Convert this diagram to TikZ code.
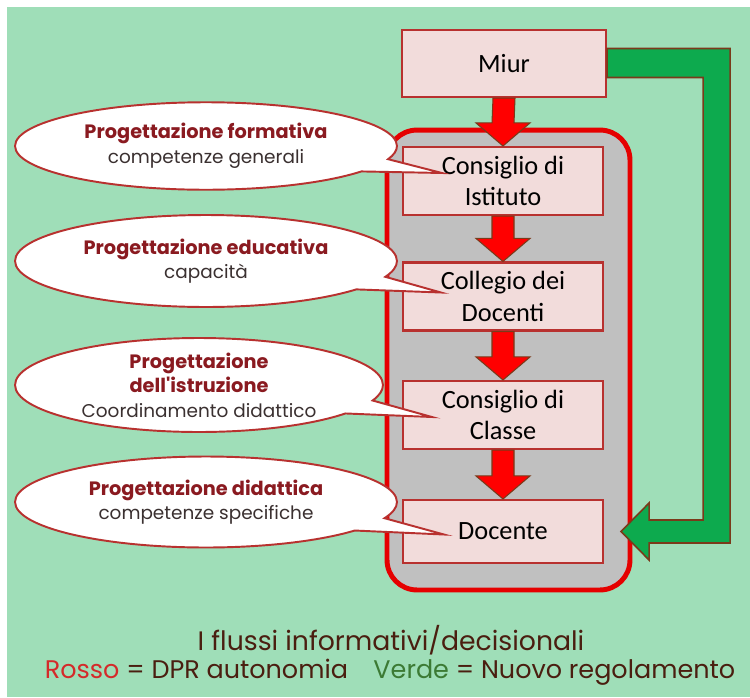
\documentclass[tikz,border=0pt]{standalone}
\usepackage{fontspec}
\setmainfont{Carlito}
\newfontfamily\comic{Poppins}
\usetikzlibrary{calc,shapes.callouts}
\definecolor{bggreen}{HTML}{9FDEB8}
\definecolor{boxpink}{HTML}{F2DCDB}
\definecolor{boxline}{HTML}{B8312F}
\definecolor{panelgray}{HTML}{C0C0C0}
\definecolor{flowred}{HTML}{FF0000}
\definecolor{flowline}{HTML}{7A3A1A}
\definecolor{flowgreen}{HTML}{0DAA4E}
\definecolor{darkred}{HTML}{8A1A20}
\definecolor{textgray}{HTML}{3A3030}
\definecolor{legbrown}{HTML}{4A1E10}
\definecolor{legred}{HTML}{D42A2A}
\definecolor{leggreen}{HTML}{3C7A34}
\newcommand{\headline}[1]{{\fontsize{11}{14}\selectfont\bfseries\color{darkred}#1}}
\tikzstyle{unit}=[rectangle,draw=boxline,fill=boxpink,line width=1.2pt,minimum width=4cm,minimum height=1.36cm,align=center,font=\fontsize{15}{18}\selectfont,text=black]
\tikzstyle{panel}=[rectangle,draw=red!90!black,fill=panelgray,line width=2.8pt,rounded corners=0.6cm,minimum width=4.86cm,minimum height=9.2cm]
\tikzstyle{redflow}=[fill=flowred,draw=flowline,line width=0.6pt,line join=miter]
\tikzstyle{greenflow}=[fill=flowgreen,draw=flowline,line width=0.9pt,line join=miter]
\tikzstyle{bubble}=[ellipse callout,draw=boxline,fill=white,line width=1.1pt,callout pointer arc=18,minimum width=7.64cm,minimum height=1.75cm,inner sep=0pt,align=center,font=\comic\fontsize{10.5}{14}\selectfont,text=textgray]

\begin{document}
\begin{tikzpicture}[x=0.02cm,y=-0.02cm]
\useasboundingbox (0,0) rectangle (750,697);
\fill[white] (0,0) rectangle (750,697);
\fill[bggreen] (7,7) rectangle (750,697);
\node[panel] at (508.5, 360) (cont) {};
\node[unit, minimum width=4.08cm, minimum height=1.34cm] at (504, 63.5) (miur) {Miur};
\node[unit] at (503, 181) (ist) {Consiglio di\\Istituto};
\node[unit] at (503, 296.5) (col) {Collegio dei\\Docenti};
\node[unit] at (503, 415) (cls) {Consiglio di\\Classe};
\node[unit, minimum height=1.26cm] at (503, 531.5) (doc) {Docente};
\foreach \a/\b in {miur/ist, ist/col, col/cls, cls/doc}
  \draw[redflow] ($(\a.south)+(-11,0)$) -- ($(\b.north)+(-11,-23)$) -- ($(\b.north)+(-27,-23)$) -- (\b.north) -- ($(\b.north)+(27,-23)$) -- ($(\b.north)+(11,-23)$) -- ($(\a.south)+(11,0)$) -- cycle;
\draw[greenflow] ($(miur.east)+(0,-15)$) -- ++(123,0) -- ++(0,494.5) -- ++(-81,0) -- ++(0,17) -- ++(-28,-28.5) -- ++(28,-28.5) -- ++(0,17) -- ++(54,0) -- ++(0,-442.5) -- ++(-96,0) -- cycle;
\node[bubble, callout absolute pointer={($(ist.west)+(40,-8)$)}] at (206, 146) (b1) {\headline{Progettazione formativa}\\competenze generali};
\node[bubble, minimum height=1.84cm, callout absolute pointer={($(col.west)+(39,-4)$)}] at (206, 261) (b2) {\headline{Progettazione educativa}\\capacità};
\node[bubble, minimum width=7.36cm, minimum height=1.88cm, callout absolute pointer={($(cls.west)+(30,2)$)}] at (199, 385) (b3) {\headline{Progettazione}\\\headline{dell'istruzione}\\Coordinamento didattico};
\node[bubble, minimum height=1.82cm, callout absolute pointer={($(doc.west)+(42,3)$)}] at (206, 502) (b4) {\headline{Progettazione didattica}\\competenze specifiche};
\node[font=\comic\fontsize{15.2}{17}\selectfont, text=legbrown] at (391, 640) (title) {I flussi informativi/decisionali};
\node[font=\comic\fontsize{14.5}{17}\selectfont, text=legbrown] at (390, 672) (legend) {{\color{legred}Rosso} = DPR autonomia\quad{\color{leggreen}Verde} = Nuovo regolamento};
\end{tikzpicture}
\end{document}
